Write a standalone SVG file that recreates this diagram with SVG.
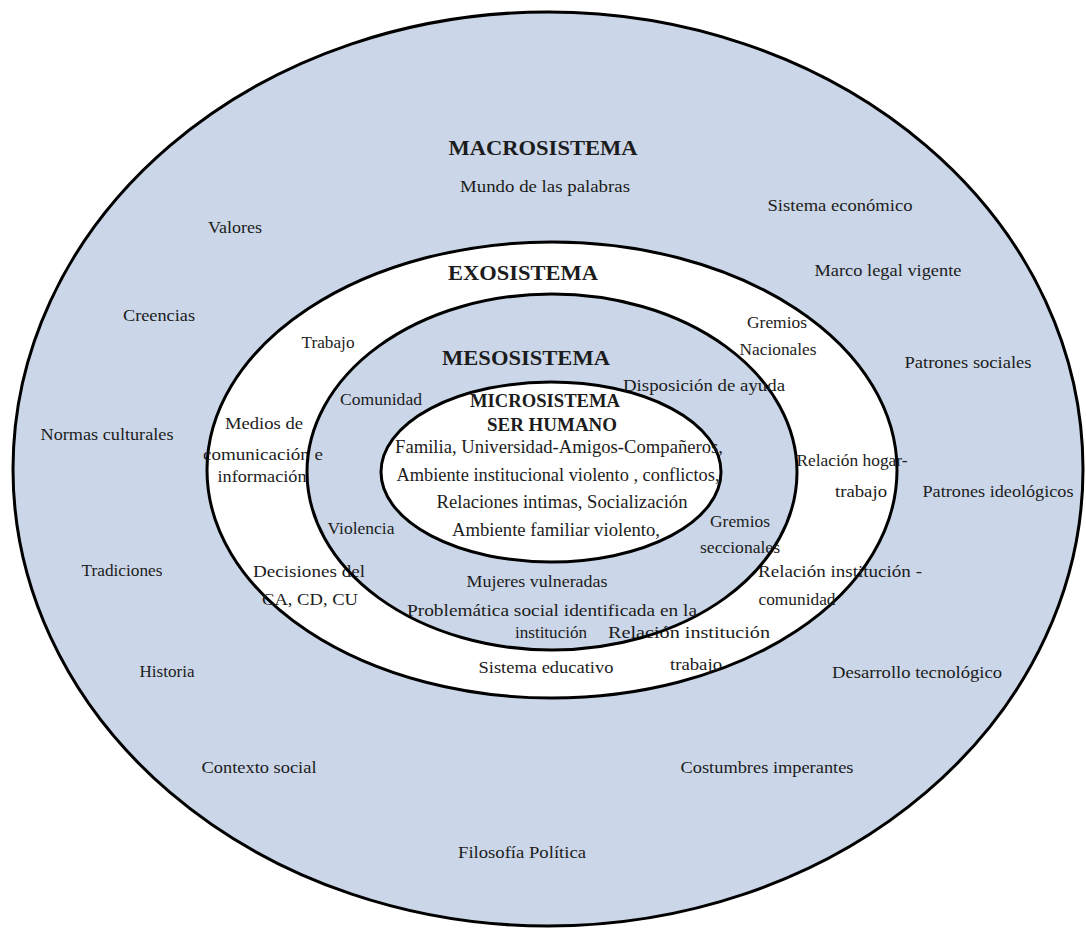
<svg xmlns="http://www.w3.org/2000/svg" width="1086" height="928" viewBox="0 0 1086 928">
<style>
.ring{stroke:#000;stroke-width:3;fill:none}
.blue{fill:#cbd7e8}
.white{fill:#ffffff}
text{font-family:"Liberation Serif","Times New Roman",serif;font-size:17px;fill:#1c1c1c;text-anchor:middle}
.ttl{font-weight:bold;font-size:22px}
.ttl2{font-weight:bold;font-size:18.5px}
.mic{font-size:18px}
</style>
<rect width="1086" height="928" fill="#ffffff"/>
<g id="fills">
<ellipse class="blue" cx="548" cy="469" rx="535" ry="457"/>
<ellipse class="white" cx="552" cy="470" rx="345" ry="228"/>
<ellipse class="blue" cx="552" cy="472" rx="245" ry="178"/>
<ellipse class="white" cx="551" cy="472" rx="170" ry="90"/>
</g>
<g id="macrosistema">
<ellipse class="ring" cx="548" cy="469" rx="535" ry="457"/>
<text class="ttl" x="543" y="155" textLength="189" lengthAdjust="spacingAndGlyphs">MACROSISTEMA</text>
<text x="545" y="192" textLength="170" lengthAdjust="spacingAndGlyphs">Mundo  de las  palabras</text>
<text x="235" y="233" textLength="54" lengthAdjust="spacingAndGlyphs">Valores</text>
<text x="840" y="211" textLength="145" lengthAdjust="spacingAndGlyphs">Sistema  económico</text>
<text x="888" y="276" textLength="147" lengthAdjust="spacingAndGlyphs">Marco legal  vigente</text>
<text x="159" y="321" textLength="72" lengthAdjust="spacingAndGlyphs">Creencias</text>
<text x="968" y="368" textLength="127" lengthAdjust="spacingAndGlyphs">Patrones  sociales</text>
<text x="107" y="440" textLength="133" lengthAdjust="spacingAndGlyphs">Normas  culturales</text>
<text x="998" y="497" textLength="151" lengthAdjust="spacingAndGlyphs">Patrones ideológicos</text>
<text x="122" y="576" textLength="81" lengthAdjust="spacingAndGlyphs">Tradiciones</text>
<text x="167" y="677" textLength="55" lengthAdjust="spacingAndGlyphs">Historia</text>
<text x="917" y="678" textLength="170" lengthAdjust="spacingAndGlyphs">Desarrollo  tecnológico</text>
<text x="259" y="773" textLength="115" lengthAdjust="spacingAndGlyphs">Contexto  social</text>
<text x="767" y="773" textLength="173" lengthAdjust="spacingAndGlyphs">Costumbres  imperantes</text>
<text x="522" y="858" textLength="128" lengthAdjust="spacingAndGlyphs">Filosofía  Política</text>
</g>
<g id="exosistema">
<ellipse class="ring" cx="552" cy="470" rx="345" ry="228"/>
<text class="ttl" x="523" y="280" textLength="150" lengthAdjust="spacingAndGlyphs">EXOSISTEMA</text>
<text x="328" y="348" textLength="53" lengthAdjust="spacingAndGlyphs">Trabajo</text>
<text x="777" y="328" textLength="60" lengthAdjust="spacingAndGlyphs">Gremios</text>
<text x="778" y="355" textLength="77" lengthAdjust="spacingAndGlyphs">Nacionales</text>
<text x="264" y="429" textLength="78" lengthAdjust="spacingAndGlyphs">Medios  de</text>
<text x="263" y="460" textLength="120" lengthAdjust="spacingAndGlyphs">comunicación  e</text>
<text x="262" y="482" textLength="89" lengthAdjust="spacingAndGlyphs">información</text>
<text x="852" y="466" textLength="111" lengthAdjust="spacingAndGlyphs">Relación  hogar-</text>
<text x="861" y="497" textLength="52" lengthAdjust="spacingAndGlyphs">trabajo</text>
<text x="309" y="577" textLength="112" lengthAdjust="spacingAndGlyphs">Decisiones  del</text>
<text x="310" y="605" textLength="96" lengthAdjust="spacingAndGlyphs">CA, CD, CU</text>
<text x="840" y="577" textLength="164" lengthAdjust="spacingAndGlyphs">Relación  institución  -</text>
<text x="797" y="605" textLength="77" lengthAdjust="spacingAndGlyphs">comunidad</text>
<text x="689" y="638" textLength="162" lengthAdjust="spacingAndGlyphs">Relación  institución</text>
<text x="696" y="670" textLength="52" lengthAdjust="spacingAndGlyphs">trabajo</text>
<text x="546" y="673" textLength="135" lengthAdjust="spacingAndGlyphs">Sistema  educativo</text>
</g>
<g id="mesosistema">
<ellipse class="ring" cx="552" cy="472" rx="245" ry="178"/>
<text class="ttl" x="526" y="365" textLength="168" lengthAdjust="spacingAndGlyphs">MESOSISTEMA</text>
<text x="704" y="391" textLength="162" lengthAdjust="spacingAndGlyphs">Disposición  de ayuda</text>
<text x="381" y="405" textLength="82" lengthAdjust="spacingAndGlyphs">Comunidad</text>
<text x="361" y="534" textLength="67" lengthAdjust="spacingAndGlyphs">Violencia</text>
<text x="740" y="527" textLength="60" lengthAdjust="spacingAndGlyphs">Gremios</text>
<text x="740" y="553" textLength="80" lengthAdjust="spacingAndGlyphs">seccionales</text>
<text x="537" y="587" textLength="141" lengthAdjust="spacingAndGlyphs">Mujeres  vulneradas</text>
<text x="552" y="616" textLength="290" lengthAdjust="spacingAndGlyphs">Problemática  social  identificada  en la</text>
<text x="551" y="638" textLength="72" lengthAdjust="spacingAndGlyphs">institución</text>
</g>
<g id="microsistema">
<ellipse class="ring" cx="551" cy="472" rx="170" ry="90"/>
<text class="ttl2" x="545" y="407" textLength="150" lengthAdjust="spacingAndGlyphs">MICROSISTEMA</text>
<text class="ttl2" x="552" y="431" textLength="130" lengthAdjust="spacingAndGlyphs">SER HUMANO</text>
<text class="mic" x="559" y="453" textLength="328" lengthAdjust="spacingAndGlyphs">Familia,  Universidad-Amigos-Compañeros,</text>
<text class="mic" x="558" y="481" textLength="323" lengthAdjust="spacingAndGlyphs">Ambiente  institucional  violento  , conflictos,</text>
<text class="mic" x="562" y="508" textLength="251" lengthAdjust="spacingAndGlyphs">Relaciones  intimas,  Socialización</text>
<text class="mic" x="556" y="536" textLength="208" lengthAdjust="spacingAndGlyphs">Ambiente  familiar  violento,</text>
</g>
</svg>
